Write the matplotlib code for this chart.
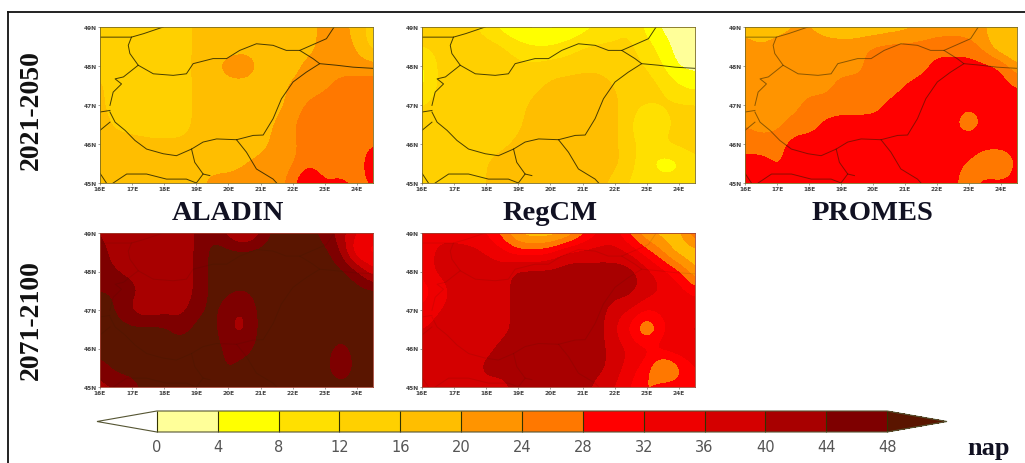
import numpy as np
import matplotlib
matplotlib.use('Agg')
from matplotlib import pyplot as plt
from matplotlib.colors import ListedColormap, BoundaryNorm
from matplotlib.cm import ScalarMappable
from matplotlib.lines import Line2D

W, H = 1025, 464

levels = [0, 4, 8, 12, 16, 20, 24, 28, 32, 36, 40, 44, 48]
band_colors = ['#ffff99', '#ffff00', '#ffe000', '#ffd000', '#ffbe00', '#ff9400', '#ff7800',
               '#ff0000', '#ee0000', '#d40000', '#a80000', '#7e0000']
under_color = '#ffffff'
over_color = '#5a1500'

lon_ticks = [16, 17, 18, 19, 20, 21, 22, 23, 24]
lat_ticks = [45, 46, 47, 48, 49]

# rows go north to south, 16E to 24.5E, number of days
aladin_2021 = [
    [16, 16, 16, 14, 14, 14, 17, 17, 17, 17, 17, 17, 17, 18, 22, 22, 18, 14],
    [15, 14, 14, 14, 14, 14, 17, 17, 17, 18, 18, 18, 18, 18, 22, 22, 20, 13],
    [15, 14, 14, 14, 14, 14, 17, 19, 23, 24, 19, 18, 18, 22, 22, 22, 22, 22],
    [17, 14, 14, 14, 14, 14, 17, 17, 18, 18, 18, 18, 21, 22, 23, 26, 26, 26],
    [17, 14, 14, 14, 14, 14, 17, 17, 17, 17, 17, 18, 22, 25, 26, 26, 26, 26],
    [18, 15, 14, 14, 14, 14, 17, 17, 17, 17, 17, 21, 24, 26, 26, 26, 26, 26],
    [18, 18, 18, 17, 17, 17, 17, 17, 17, 17, 18, 22, 23, 26, 26, 29, 26, 26],
    [18, 18, 18, 18, 18, 18, 18, 18, 18, 20, 22, 22, 23, 27, 24, 22, 22, 36],
    [18, 18, 18, 18, 18, 18, 18, 22, 22, 22, 22, 22, 26, 36, 28, 32, 26, 28],
]
regcm_2021 = [
    [13, 13, 13, 13, 10, 6, 3, 3, 3, 3, 6, 8, 10, 12, 6, 3, 2, 2],
    [13, 13, 13, 14, 14, 13, 10, 8, 8, 10, 12, 13, 13, 13, 10, 6, 2, 2],
    [6, 13, 14, 15, 15, 14, 13, 13, 14, 14, 15, 15, 14, 13, 12, 8, 3, 3],
    [6, 13, 14, 14, 13, 14, 14, 15, 17, 18, 18, 18, 16, 14, 14, 12, 8, 6],
    [12, 14, 14, 14, 10, 14, 15, 17, 18, 18, 18, 18, 17, 14, 12, 13, 13, 13],
    [14, 14, 14, 14, 14, 14, 15, 18, 18, 18, 18, 18, 17, 13, 5, 10, 13, 13],
    [14, 14, 14, 14, 14, 15, 17, 18, 18, 18, 18, 18, 17, 13, 11, 13, 14, 14],
    [14, 14, 14, 14, 16, 18, 18, 18, 18, 18, 18, 18, 18, 13, 9, 4, 6, 11],
    [14, 14, 14, 14, 16, 18, 18, 18, 18, 18, 18, 18, 14, 11, 11, 11, 11, 11],
]
promes_2021 = [
    [18, 18, 18, 20, 20, 18, 17, 16, 16, 17, 18, 20, 22, 22, 22, 20, 18, 20],
    [22, 20, 22, 22, 22, 22, 22, 23, 25, 26, 26, 26, 26, 26, 26, 22, 14, 14],
    [22, 22, 22, 22, 22, 22, 22, 22, 26, 26, 26, 26, 30, 30, 30, 30, 29, 20],
    [22, 22, 22, 22, 22, 22, 26, 26, 26, 26, 28, 30, 30, 30, 30, 30, 30, 28],
    [22, 22, 22, 22, 26, 26, 26, 26, 26, 29, 30, 30, 30, 30, 30, 30, 30, 30],
    [24, 22, 22, 26, 26, 29, 30, 30, 30, 30, 30, 30, 30, 30, 22, 30, 30, 30],
    [26, 26, 27, 30, 30, 30, 30, 30, 30, 30, 30, 30, 30, 30, 34, 32, 32, 30],
    [30, 30, 27, 29, 30, 30, 30, 30, 30, 30, 30, 30, 30, 30, 27, 20, 20, 30],
    [30, 30, 30, 30, 30, 30, 30, 30, 30, 30, 30, 30, 30, 30, 24, 32, 30, 30],
]
aladin_2071 = [
    [44, 42, 42, 42, 42, 42, 44, 48, 42, 36, 44, 50, 50, 50, 46, 42, 36, 34],
    [46, 42, 42, 42, 42, 42, 44, 50, 50, 50, 50, 50, 50, 50, 50, 44, 30, 30],
    [46, 44, 42, 42, 42, 42, 44, 50, 50, 50, 50, 50, 50, 50, 50, 50, 46, 36],
    [48, 48, 46, 42, 42, 42, 44, 50, 49, 48, 50, 50, 50, 50, 50, 50, 50, 50],
    [50, 48, 42, 40, 42, 42, 46, 50, 45, 43, 50, 50, 50, 50, 50, 50, 50, 50],
    [50, 50, 50, 50, 50, 46, 50, 50, 44, 42, 50, 50, 50, 50, 50, 50, 50, 50],
    [50, 50, 50, 50, 50, 50, 50, 50, 47, 46, 50, 50, 50, 50, 50, 46, 50, 50],
    [46, 50, 50, 50, 50, 50, 50, 50, 47, 50, 50, 50, 50, 50, 50, 43, 50, 50],
    [42, 44, 46, 50, 50, 50, 50, 50, 50, 50, 50, 50, 50, 50, 50, 50, 50, 50],
]
regcm_2071 = [
    [32, 34, 34, 33, 32, 26, 18, 16, 16, 18, 26, 32, 34, 26, 20, 18, 18, 30],
    [32, 38, 38, 38, 36, 34, 30, 30, 32, 38, 38, 38, 38, 36, 30, 24, 16, 16],
    [32, 38, 38, 38, 38, 38, 42, 42, 42, 42, 42, 42, 42, 42, 38, 34, 30, 20],
    [30, 32, 38, 38, 38, 38, 42, 42, 42, 42, 42, 42, 42, 42, 38, 36, 34, 30],
    [32, 36, 38, 34, 38, 38, 42, 42, 42, 42, 42, 42, 38, 36, 32, 34, 36, 36],
    [36, 38, 38, 38, 38, 38, 42, 42, 42, 42, 42, 42, 36, 30, 20, 30, 36, 36],
    [38, 38, 38, 38, 38, 42, 42, 42, 42, 42, 42, 42, 38, 36, 34, 36, 36, 36],
    [38, 38, 38, 38, 42, 42, 42, 42, 42, 42, 42, 42, 38, 34, 30, 18, 26, 32],
    [38, 38, 38, 38, 38, 38, 42, 42, 42, 42, 42, 38, 36, 32, 26, 32, 30, 32],
]

# borders as lon/lat lists
hungary_lon = [16.31, 16.47, 16.78, 17.09, 17.45, 17.97, 18.38, 18.85, 19.21, 19.63, 20.25, 20.77, 21.08, 21.39,
               21.65, 22.01, 22.42, 22.84, 22.63, 22.22, 21.80, 21.39, 20.87, 20.35, 19.94, 19.52, 18.90, 18.69,
               18.28, 17.66, 17.19, 16.73, 16.47, 16.67, 16.41, 16.31]
hungary_lat = [46.82, 46.56, 46.35, 46.09, 45.87, 45.75, 45.70, 45.87, 46.05, 46.13, 46.11, 46.22, 46.23, 46.65,
               47.16, 47.59, 47.84, 48.06, 48.19, 48.40, 48.40, 48.53, 48.57, 48.40, 48.19, 48.19, 48.06, 47.80,
               47.76, 47.80, 48.02, 47.72, 47.67, 47.54, 47.33, 46.99]
border_lons = [
    [16.0, 16.41, 16.98, 17.36, 17.97],
    [16.98, 16.88, 16.93, 17.19],
    [23.29, 23.05, 22.22],
    [22.84, 23.36, 23.88, 24.5],
    [16.0, 16.31],
    [16.0, 16.31],
    [20.25, 20.56, 20.87, 21.39, 21.5],
    [18.85, 18.95, 19.21, 19.42],
    [16.41, 16.83, 17.45, 18.07, 18.69, 19.0, 19.21],
    [16.0, 16.2],
]
border_lats = [
    [48.74, 48.74, 48.74, 48.83, 49.0],
    [48.74, 48.53, 48.32, 48.02],
    [49.0, 48.70, 48.40],
    [48.06, 48.02, 47.97, 47.94],
    [46.82, 46.86],
    [46.35, 46.56],
    [46.11, 45.79, 45.36, 45.10, 45.0],
    [45.87, 45.53, 45.23, 45.19],
    [45.0, 45.23, 45.23, 45.10, 45.10, 45.0, 45.23],
    [45.25, 45.0],
]

# title, values, pixel box, title centre x, border alpha, spine colour
panels = [
    ('ALADIN', aladin_2021, (100, 373, 28, 184), 228, 0.8, '#7a6a20'),
    ('RegCM', regcm_2021, (422, 695, 28, 184), 550, 0.8, '#7a6a20'),
    ('PROMES', promes_2021, (745, 1017, 28, 184), 872, 0.5, '#7a6a20'),
    (None, aladin_2071, (100, 373, 234, 388), 0, 0.1, '#a04030'),
    (None, regcm_2071, (422, 695, 234, 388), 0, 0.1, '#a04030'),
]

cmap = ListedColormap(band_colors)
cmap.set_under(under_color)
cmap.set_over(over_color)
norm = BoundaryNorm(levels, cmap.N)

fig = plt.figure(figsize=(W / 100, H / 100), dpi=100)


def px_axes(x0, x1, y0, y1):
    return fig.add_axes([x0 / W, 1 - y1 / H, (x1 - x0) / W, (y1 - y0) / H])


for name, values, box, title_x, line_alpha, spine_color in panels:
    ax = px_axes(*box)
    ax.imshow(np.array(values, dtype=float), cmap=cmap, norm=norm, interpolation='bicubic', aspect='auto',
              extent=[15.75, 24.75, 44.75, 49.25], origin='upper')
    ax.set_xlim(16, 24.5)
    ax.set_ylim(45, 49)
    ax.plot(hungary_lon, hungary_lat, color='#1a1a00', lw=0.7, alpha=line_alpha)
    for bx, by in zip(border_lons, border_lats):
        ax.plot(bx, by, color='#1a1a00', lw=0.7, alpha=line_alpha)
    ax.set_xticks(lon_ticks)
    ax.set_xticklabels([f'{v}E' for v in lon_ticks], fontsize=4.2, color='#444444', fontweight='bold')
    ax.set_yticks(lat_ticks)
    ax.set_yticklabels([f'{v}N' for v in lat_ticks], fontsize=4.2, color='#444444', fontweight='bold')
    ax.tick_params(length=1.5, width=0.4, pad=0.8, color='#555555')
    for s in ax.spines.values():
        s.set_linewidth(0.6)
        s.set_color(spine_color)
    if name:
        fig.text(title_x / W, 1 - 214 / H, name, ha='center', va='center', fontsize=20.5,
                 family='Liberation Serif', fontweight='bold', color='#111122')

fig.text(31 / W, 1 - 110 / H, '2021-2050', rotation=90, ha='center', va='center', fontsize=20,
         family='Liberation Serif', fontweight='bold', color='#111111')
fig.text(31 / W, 1 - 320 / H, '2071-2100', rotation=90, ha='center', va='center', fontsize=20,
         family='Liberation Serif', fontweight='bold', color='#111111')

cax = px_axes(97, 947, 412, 433)
cb = fig.colorbar(ScalarMappable(norm=norm, cmap=cmap), cax=cax, orientation='horizontal', extend='both',
                  extendfrac=0.082, ticks=levels, drawedges=True, spacing='proportional')
cb.outline.set_linewidth(0.8)
cb.outline.set_edgecolor('#555533')
cb.dividers.set_color('#333300')
cb.dividers.set_linewidth(0.8)
cax.tick_params(length=0, pad=5, labelsize=10.5, labelcolor='#555555')
cax.minorticks_off()
fig.text(989 / W, 1 - 449 / H, 'nap', ha='center', va='center', fontsize=19, family='Liberation Serif',
         fontweight='bold', color='#111122')

# only the top and left edges of the frame show
fig.add_artist(Line2D([8 / W, 1], [1 - 13 / H, 1 - 13 / H], transform=fig.transFigure, color='#111111', lw=1.3))
fig.add_artist(Line2D([8 / W, 8 / W], [0, 1 - 13 / H], transform=fig.transFigure, color='#111111', lw=1.3))

fig.savefig('out.png', dpi=100)
